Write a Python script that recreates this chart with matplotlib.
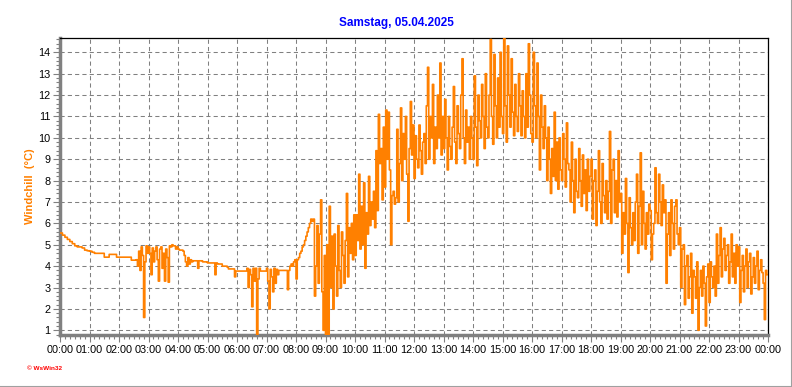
#!/usr/bin/env python3

import matplotlib
matplotlib.use("Agg")
import matplotlib.pyplot as plt
from matplotlib.ticker import MultipleLocator, FuncFormatter
from matplotlib.lines import Line2D
import numpy as np

title = "Samstag, 05.04.2025"
ylabel = "Windchill  (°C)"

# 00:00 - 02:30, 5-minute steps
early = [
    5.55, 5.45, 5.35, 5.25, 5.15, 5.05, 4.95, 4.9, 4.9, 4.85, 4.75, 4.72,
    4.7, 4.65, 4.6, 4.6, 4.6, 4.6, 4.42, 4.42, 4.55, 4.55, 4.55, 4.42,
    4.42, 4.42, 4.42, 4.42, 4.42, 4.28,
]

# 02:30 - 24:00, 2.5-minute steps, one row per hour (estimated from the chart)
late = [
    4.28, 4.28, 4.3, 4.0, 4.7, 3.8, 4.9, 4.5, 1.6, 4.2, 4.95, 4.6,
    4.9, 4.6, 3.6, 4.85, 4.2, 4.7, 4.9, 4.3, 3.3, 4.8, 4.9, 3.9, 4.6, 3.3, 4.8, 4.4, 3.25, 4.95, 4.9, 5.0, 4.95, 4.95, 4.8, 4.9,
    4.8, 4.75, 4.75, 4.75, 4.7, 4.5, 4.2, 4.0, 4.4, 4.1, 4.3, 4.2, 4.25, 4.25, 4.25, 4.25, 3.9, 4.25, 4.25, 4.25, 4.2, 4.2, 4.2, 4.2,
    4.15, 4.15, 4.15, 4.15, 4.15, 4.15, 3.6, 4.15, 4.1, 4.1, 4.1, 4.1, 4.0, 4.0, 4.0, 4.0, 3.95, 3.87, 3.87, 3.87, 3.87, 3.87, 3.5, 3.77,
    3.77, 3.77, 3.77, 3.77, 3.77, 3.77, 3.77, 3.77, 3.9, 3.0, 3.85, 3.6, 2.1, 3.9, 3.3, 3.9, 0.8, 3.4, 3.9, 3.77, 3.77, 3.77, 3.77, 3.77,
    3.9, 3.3, 2.0, 3.85, 3.5, 2.8, 3.9, 3.2, 3.85, 3.6, 3.8, 3.8, 3.8, 3.8, 3.8, 3.8, 3.8, 2.9, 3.8, 4.0, 4.1, 4.0, 4.2, 4.3,
    3.4, 4.3, 4.4, 4.6, 4.7, 4.9, 5.0, 5.2, 5.4, 5.6, 5.8, 6.0, 6.2, 6.1, 6.2, 2.6, 4.0, 5.9, 3.2, 5.5, 7.1, 2.8, 1.0, 4.5,
    0.8, 5.0, 0.8, 6.8, 3.0, 5.4, 2.0, 5.5, 4.0, 2.6, 5.9, 3.8, 3.0, 5.6, 4.5, 3.2, 5.2, 7.4, 3.5, 5.8, 4.6, 6.0, 4.3, 6.4,
    4.5, 6.4, 5.2, 8.3, 4.8, 6.8, 5.0, 7.9, 3.9, 6.5, 5.5, 8.2, 5.9, 7.0, 6.2, 7.5, 5.8, 9.4, 6.6, 11.1, 8.8, 9.5, 7.1, 10.5,
    7.7, 11.3, 9.0, 11.2, 8.5, 5.0, 7.3, 7.5, 6.9, 7.2, 10.4, 7.0, 8.8, 11.4, 8.0, 10.2, 9.0, 11.0, 8.3, 6.1, 9.5, 11.7, 9.2, 10.6,
    8.1, 10.1, 9.0, 8.6, 10.6, 9.4, 8.3, 9.8, 10.2, 8.8, 11.5, 13.3, 9.0, 11.0, 10.0, 12.5, 8.8, 10.5, 9.5, 12.0, 10.0, 13.5, 9.2, 11.0,
    9.5, 11.8, 10.0, 8.5, 11.0, 9.6, 9.0, 10.5, 12.4, 9.8, 8.8, 11.5, 10.2, 9.5, 12.0, 13.7, 10.0, 8.8, 11.3, 9.8, 10.5, 9.0, 11.0, 10.0,
    9.0, 12.9, 10.5, 8.7, 12.0, 10.8, 10.0, 12.5, 11.0, 9.5, 13.0, 10.5, 10.0, 12.0, 14.6, 11.0, 9.7, 13.9, 11.5, 10.0, 12.8, 10.5, 14.0, 11.0,
    10.2, 14.7, 11.5, 9.8, 14.3, 12.0, 10.5, 13.7, 11.2, 10.1, 12.5, 11.0, 10.3, 13.0, 11.5, 10.1, 12.2, 11.0, 10.0, 13.0, 10.5, 14.4, 12.0, 10.2,
    9.8, 14.0, 11.5, 10.0, 13.5, 11.0, 8.5, 12.0, 10.5, 9.5, 11.5, 10.0, 8.0, 10.5, 9.0, 7.4, 9.5, 8.2, 11.2, 8.0, 9.8, 7.6, 10.0, 8.5,
    8.0, 10.2, 9.0, 7.7, 10.7, 8.8, 8.5, 7.0, 9.8, 8.0, 6.5, 9.0, 7.5, 7.2, 9.5, 8.0, 6.8, 9.2, 7.4, 8.5, 6.6, 9.0, 7.5, 8.2,
    9.0, 6.2, 8.0, 8.5, 5.9, 7.5, 9.4, 7.0, 6.0, 8.8, 7.3, 6.5, 8.0, 6.2, 7.5, 10.3, 6.0, 8.5, 9.0, 6.5, 8.0, 6.3, 9.4, 7.0,
    7.4, 4.6, 6.5, 5.5, 8.1, 6.0, 3.7, 7.2, 5.8, 5.0, 6.5, 5.2, 7.0, 8.3, 4.6, 6.8, 9.3, 5.0, 7.5, 6.0, 4.8, 6.5, 5.5, 6.9,
    6.6, 4.3, 5.5, 6.0, 8.6, 6.5, 6.0, 8.3, 7.0, 5.9, 7.8, 6.5, 7.1, 3.2, 5.5, 6.5, 4.5, 7.1, 6.0, 4.8, 6.8, 7.1, 5.5, 5.0,
    5.8, 3.0, 4.8, 5.0, 2.2, 4.0, 4.5, 2.5, 3.5, 4.6, 1.8, 3.8, 3.5, 2.5, 4.2, 1.0, 3.0, 3.8, 2.6, 4.0, 3.2, 1.2, 3.5, 4.1,
    2.3, 4.2, 3.5, 3.0, 4.0, 2.6, 5.5, 3.2, 4.5, 5.8, 3.5, 4.8, 5.3, 3.8, 4.5, 5.0, 3.2, 4.2, 5.5, 3.5, 4.6, 3.2, 5.0, 4.0,
    4.9, 2.3, 3.8, 4.5, 2.8, 4.0, 4.8, 3.0, 4.2, 4.6, 2.7, 3.5, 4.4, 3.2, 4.0, 4.7, 2.9, 3.8, 4.3, 3.7, 3.2, 1.5, 3.8, 3.6,
    3.6,
]

hours = np.concatenate([np.arange(len(early)) * 5 / 60.0,
                        np.linspace(2.5, 24.0, len(late))])
windchill = early + late

W, H = 792, 387
fig = plt.figure(figsize=(W / 100, H / 100), dpi=100)
plt.rcParams["font.family"] = ["Liberation Sans", "DejaVu Sans"]

ax = fig.add_axes([60 / W, 52 / H, 708 / W, 297 / H])
ax.plot(hours, windchill, color="#ff8000", linewidth=1.2,
        drawstyle="steps-post", zorder=3)

ax.set_xlim(0, 24)
ax.set_ylim(0.78, 14.67)

ax.xaxis.set_major_locator(MultipleLocator(1))
ax.xaxis.set_minor_locator(MultipleLocator(1 / 6))
ax.xaxis.set_major_formatter(FuncFormatter(lambda v, p: f"{int(round(v)) % 24:02d}:00"))
ax.yaxis.set_major_locator(MultipleLocator(1))
ax.yaxis.set_minor_locator(MultipleLocator(0.2))

ax.grid(which="major", color="#808080", linestyle=(0, (4, 3)), linewidth=0.75)
ax.set_axisbelow(True)

for side in ["left", "bottom"]:
    ax.spines[side].set_color("#808080")
    ax.spines[side].set_linewidth(2.5)
for side in ["top", "right"]:
    ax.spines[side].set_color("black")
    ax.spines[side].set_linewidth(0.9)

ax.tick_params(which="major", length=5, width=0.8, color="#808080", labelsize=7.8, pad=2)
ax.tick_params(which="minor", length=3, width=0.8, color="#808080")

ax.set_ylabel(ylabel, color="#ff8000", fontweight="bold", fontsize=8, labelpad=2)
fig.text(396 / W, 1 - 23 / H, title, color="#0000ff", fontweight="bold",
         fontsize=8.5, ha="center", va="center")
fig.text(27 / W, 1 - 368 / H, "\u00a9 WsWin32", color="#ff0000", fontweight="bold",
         fontsize=4.6, ha="left", va="center")

# thin gray frame on the right and bottom edges of the picture
fig.add_artist(Line2D([0, 1], [0.5 / H, 0.5 / H], color="#a0a0a0", linewidth=1.5))
fig.add_artist(Line2D([1 - 0.5 / W, 1 - 0.5 / W], [0, 1], color="#a0a0a0", linewidth=1.5))

fig.savefig("out.png", dpi=100)
